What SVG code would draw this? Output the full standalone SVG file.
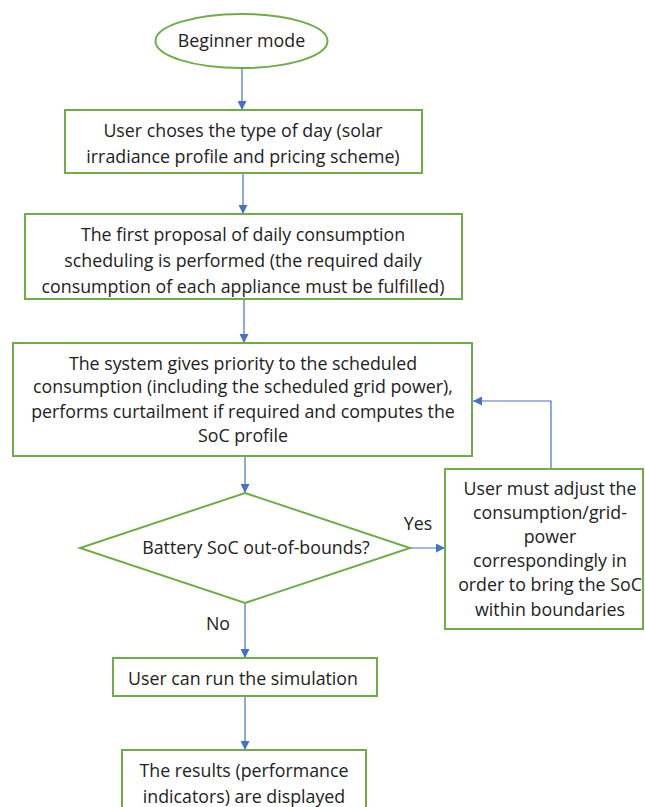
<svg xmlns="http://www.w3.org/2000/svg" width="645" height="807" viewBox="0 0 645 807">
<defs>
<marker id="ah" viewBox="0 0 10 10" refX="10" refY="5" markerWidth="9" markerHeight="9" markerUnits="userSpaceOnUse" orient="auto">
<path d="M0,0 L10,5 L0,10 z" fill="#4472C4"/>
</marker>
<style>
.n{fill:#fff;stroke:#70AD47;stroke-width:2}
.t{font-family:"Open Sans","Liberation Sans",Arial,sans-serif;font-size:17.8px;fill:#222;text-anchor:middle}
.c{fill:none;stroke:#4472C4;stroke-width:1.2;marker-end:url(#ah)}
</style>
</defs>
<rect width="645" height="807" fill="#fff"/>
<g id="connectors">
<path class="c" d="M242,68 V110"/>
<path class="c" d="M243,173 V214"/>
<path class="c" d="M244,299 V343"/>
<path class="c" d="M245,456 V493"/>
<path class="c" d="M410,548 H445"/>
<path class="c" d="M551,469 V401 H473"/>
<path class="c" d="M245,603 V658"/>
<path class="c" d="M245,696 V750"/>
<text class="t" x="418" y="530">Yes</text>
<text class="t" x="218" y="630">No</text>
</g>
<g id="start">
<ellipse class="n" cx="241.5" cy="41" rx="86" ry="27"/>
<text class="t" x="241.5" y="47">Beginner mode</text>
</g>
<g id="choose-day">
<rect class="n" x="65" y="110" width="357" height="63"/>
<text class="t" x="243" y="137">User choses the type of day (solar</text>
<text class="t" x="243" y="163">irradiance profile and pricing scheme)</text>
</g>
<g id="first-proposal">
<rect class="n" x="25" y="214" width="437" height="85"/>
<text class="t" x="243" y="241">The first proposal of daily consumption</text>
<text class="t" x="243" y="267">scheduling is performed (the required daily</text>
<text class="t" x="243" y="293">consumption of each appliance must be fulfilled)</text>
</g>
<g id="system-priority">
<rect class="n" x="13" y="343" width="459" height="113"/>
<text class="t" x="243" y="370">The system gives priority to the scheduled</text>
<text class="t" x="243" y="393">consumption (including the scheduled grid power),</text>
<text class="t" x="243" y="418">performs curtailment if required and computes the</text>
<text class="t" x="243" y="442">SoC profile</text>
</g>
<g id="soc-check">
<polygon class="n" points="245,493 410,548 245,603 80,548"/>
<text class="t" x="256" y="554">Battery SoC out-of-bounds?</text>
</g>
<g id="adjust">
<rect class="n" x="445" y="469" width="198" height="160"/>
<text class="t" x="550" y="495">User must adjust the</text>
<text class="t" x="550" y="519">consumption/grid-</text>
<text class="t" x="550" y="543">power</text>
<text class="t" x="550" y="567">correspondingly in</text>
<text class="t" x="550" y="591">order to bring the SoC</text>
<text class="t" x="550" y="616">within boundaries</text>
</g>
<g id="run-sim">
<rect class="n" x="113" y="658" width="264" height="38"/>
<text class="t" x="243" y="685">User can run the simulation</text>
</g>
<g id="results">
<rect class="n" x="122" y="750" width="244" height="60"/>
<text class="t" x="244" y="777">The results (performance</text>
<text class="t" x="244" y="803">indicators) are displayed</text>
</g>
</svg>
